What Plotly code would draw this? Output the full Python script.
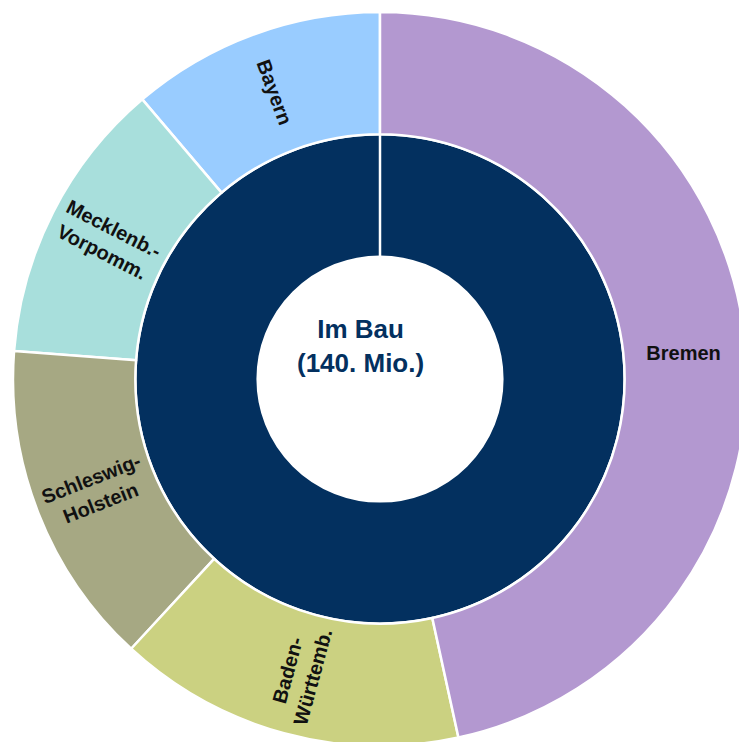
import plotly.graph_objects as go

# Data (Mio.)
center_title = "Im Bau<br>(140. Mio.)"
states = ["Bayern", "Mecklenb.-Vorpomm.", "Schleswig-Holstein", "Baden-Württemb.", "Bremen"]
state_text = ["Bayern", "Mecklenb.-<br>Vorpomm.", "Schleswig-<br>Holstein", "Baden-<br>Württemb.", "Bremen<br> <br> "]
state_values = [15.7, 17.6, 20.1, 21.4, 65.2]
state_colors = ["#99ccff", "#a8dfdc", "#a6a883", "#cbd181", "#b398d0"]

NAVY = "#03305f"
FONT = "Liberation Sans, Arial, sans-serif"

total = sum(state_values)
ids = ["root", "ring"] + states
labels = ["Im Bau (140. Mio.)", "Im Bau"] + states
parents = ["", "root"] + ["ring"] * len(states)
values = [total, total] + state_values
texts = ["", ""] + ["<b>" + t + "</b>" for t in state_text]
colors = ["#ffffff", NAVY] + state_colors
font_colors = [NAVY, "#ffffff"] + ["#111111"] * len(states)

fig = go.Figure(go.Sunburst(
    ids=ids,
    labels=labels,
    parents=parents,
    values=values,
    branchvalues="total",
    text=texts,
    textinfo="text",
    sort=False,
    rotation=90,
    insidetextorientation="radial",
    insidetextfont=dict(family=FONT, color=font_colors, size=20),
    outsidetextfont=dict(family=FONT, color=NAVY, size=26),
    leaf=dict(opacity=1),
    marker=dict(colors=colors, line=dict(color="#ffffff", width=2.5)),
    hoverinfo="label+value",
))

# seam of the inner ring at 12 o'clock (rings are r/3 wide)
fig.add_shape(type="line", xref="paper", yref="paper",
              x0=0.5, x1=0.5, y0=0.5 + 1 / 6, y1=0.5 + 2 / 6,
              line=dict(color="#ffffff", width=2.5))

fig.add_annotation(
    text="<b>" + center_title + "</b>",
    xref="paper", yref="paper", x=0.474, y=0.545,
    xanchor="center", yanchor="middle", showarrow=False,
    font=dict(family=FONT, color=NAVY, size=26),
)

fig.update_layout(
    width=747,
    height=746,
    margin=dict(l=13, t=12, r=0, b=0),
    paper_bgcolor="#ffffff",
    showlegend=False,
)

fig.write_html(
    "out.html",
    config={"displayModeBar": False},
    post_script="document.body.style.margin='0';document.documentElement.style.overflow='hidden';document.body.style.overflow='hidden';",
)
